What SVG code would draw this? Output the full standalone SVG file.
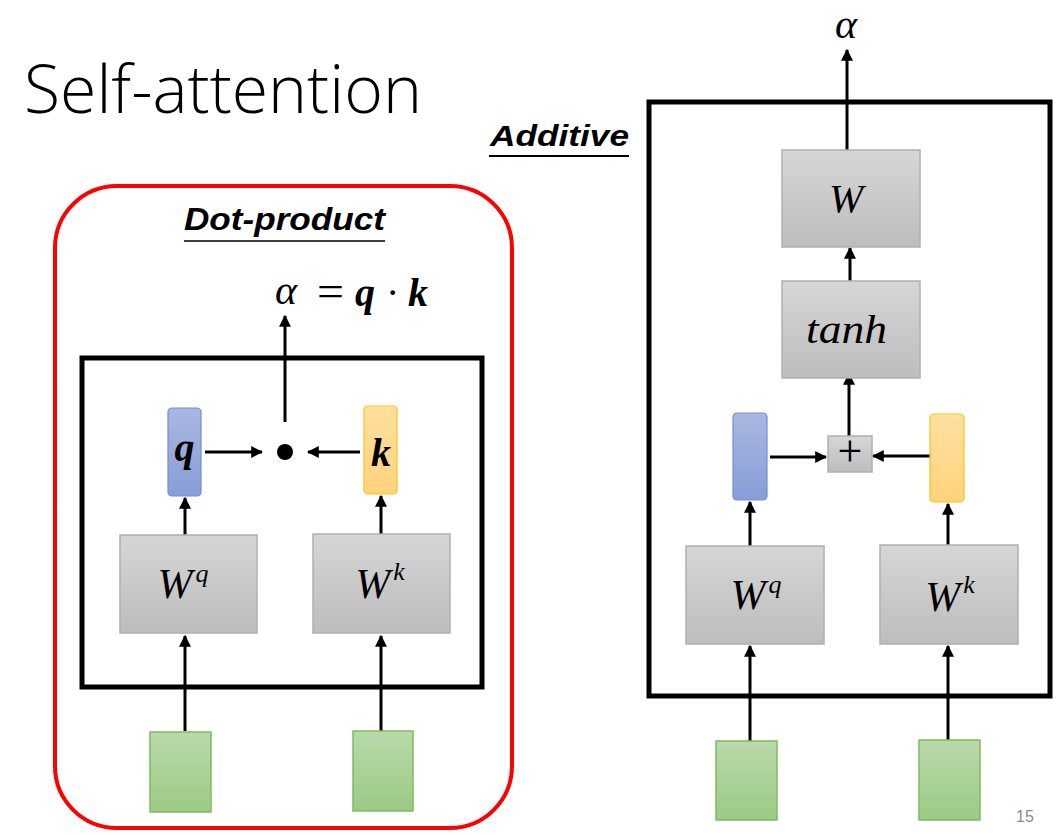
<svg xmlns="http://www.w3.org/2000/svg" width="1064" height="835" viewBox="0 0 1064 835">
<defs>
<linearGradient id="gGray" x1="0" y1="0" x2="0" y2="1"><stop offset="0" stop-color="#d6d6d6"/><stop offset="1" stop-color="#bdbdbd"/></linearGradient>
<linearGradient id="gBlue" x1="0" y1="0" x2="0" y2="1"><stop offset="0" stop-color="#aab7e0"/><stop offset="1" stop-color="#879dd8"/></linearGradient>
<linearGradient id="gOrange" x1="0" y1="0" x2="0" y2="1"><stop offset="0" stop-color="#ffe0a0"/><stop offset="1" stop-color="#ffd37d"/></linearGradient>
<linearGradient id="gGreen" x1="0" y1="0" x2="0" y2="1"><stop offset="0" stop-color="#b9d9aa"/><stop offset="1" stop-color="#9cca84"/></linearGradient>
<marker id="arr" viewBox="0 0 10 10" refX="9" refY="5" markerWidth="4" markerHeight="4" markerUnits="strokeWidth" orient="auto">
<path d="M0,0 L10,5 L0,10 z" fill="#000"/>
</marker>
<style>
.gray{fill:url(#gGray);stroke:#b0b0b0;stroke-width:1.5}
.blue{fill:url(#gBlue);stroke:#6e8fd6;stroke-width:1.2}
.orange{fill:url(#gOrange);stroke:#ffc21a;stroke-width:1.2}
.green{fill:url(#gGreen);stroke:#7ebc5f;stroke-width:1.5}
.frame{fill:none;stroke:#000;stroke-width:5}
.conn{stroke:#000;stroke-width:3;fill:none;marker-end:url(#arr)}
.math{font-family:"Liberation Serif","DejaVu Serif",serif;font-style:italic;fill:#000}
.rm{font-family:"Liberation Serif","DejaVu Serif",serif;fill:#000}
.head{font-family:"Liberation Sans","Noto Sans",sans-serif;font-weight:bold;font-style:italic;fill:#000}
</style>
</defs>
<rect width="1064" height="835" fill="#fff"/>

<text id="title" x="24" y="113" font-family="'Open Sans','Noto Sans',sans-serif" font-weight="300" font-size="66" textLength="398" lengthAdjust="spacingAndGlyphs" fill="#000">Self-attention</text>

<g id="dot-product-panel">
<rect x="55" y="186" width="457" height="642" rx="62" ry="62" fill="none" stroke="#ff0000" stroke-width="4"/>
<text class="head" x="184" y="230" font-size="31" textLength="201" lengthAdjust="spacingAndGlyphs">Dot-product</text>
<line x1="184" y1="241" x2="385" y2="241" stroke="#404040" stroke-width="2"/>
<rect class="frame" x="82" y="358" width="400" height="329"/>
</g>

<g id="additive-panel">
<text class="head" x="490" y="146" font-size="30" textLength="139" lengthAdjust="spacingAndGlyphs">Additive</text>
<line x1="489" y1="156" x2="629" y2="156" stroke="#000" stroke-width="2"/>
<rect class="frame" x="649" y="102" width="401" height="594"/>
</g>

<g id="connectors">
<line class="conn" x1="285" y1="422" x2="285" y2="316"/>
<line class="conn" x1="205" y1="452" x2="262" y2="452"/>
<line class="conn" x1="360" y1="452" x2="308" y2="452"/>
<line class="conn" x1="185" y1="546" x2="185" y2="498"/>
<line class="conn" x1="381" y1="549" x2="381" y2="496"/>
<line class="conn" x1="185" y1="731" x2="185" y2="636"/>
<line class="conn" x1="381" y1="731" x2="381" y2="636"/>
<line class="conn" x1="847" y1="152" x2="847" y2="50"/>
<line class="conn" x1="850" y1="284" x2="850" y2="248"/>
<line class="conn" x1="849" y1="436" x2="849" y2="374"/>
<line class="conn" x1="770" y1="457" x2="826" y2="457"/>
<line class="conn" x1="930" y1="456" x2="873" y2="456"/>
<line class="conn" x1="750" y1="557" x2="750" y2="502"/>
<line class="conn" x1="948" y1="560" x2="948" y2="504"/>
<line class="conn" x1="750" y1="741" x2="750" y2="646"/>
<line class="conn" x1="948" y1="740" x2="948" y2="646"/>
</g>

<g id="left-alpha">
<text class="math" x="275" y="304" font-size="42" textLength="22" lengthAdjust="spacingAndGlyphs">α</text>
<text class="rm" x="317" y="306" font-size="44" textLength="27" lengthAdjust="spacingAndGlyphs">=</text>
<text class="math" x="355" y="306" font-size="40" font-weight="bold">q</text>
<text class="rm" x="386" y="306" font-size="40">·</text>
<text class="math" x="408" y="306" font-size="40" font-weight="bold">k</text>
</g>

<g id="left-dot"><circle cx="285" cy="452" r="8" fill="#000"/></g>

<g id="left-q"><rect class="blue" x="168" y="408" width="33" height="88" rx="4"/>
<text class="math" x="184.5" y="461" font-size="40" font-weight="bold" text-anchor="middle">q</text></g>
<g id="left-k"><rect class="orange" x="364" y="406" width="33" height="88" rx="4"/>
<text class="math" x="381" y="466" font-size="40" font-weight="bold" text-anchor="middle">k</text></g>

<g id="left-Wq"><rect class="gray" x="120" y="535" width="137" height="98"/>
<text class="math" x="183" y="598" font-size="42" text-anchor="middle">W<tspan font-size="26" dx="3" dy="-16">q</tspan></text></g>
<g id="left-Wk"><rect class="gray" x="313" y="534" width="137" height="99"/>
<text class="math" x="380" y="598" font-size="42" text-anchor="middle">W<tspan font-size="26" dx="3" dy="-18">k</tspan></text></g>

<g id="left-x1"><rect class="green" x="150" y="732" width="61" height="80"/></g>
<g id="left-x2"><rect class="green" x="353" y="731" width="60" height="80"/></g>

<g id="right-alpha"><text class="math" x="846" y="38" font-size="42" text-anchor="middle">α</text></g>
<g id="right-W"><rect class="gray" x="782" y="150" width="138" height="97"/>
<text class="math" x="846" y="212" font-size="41" text-anchor="middle">W</text></g>
<g id="right-tanh"><rect class="gray" x="782" y="281" width="138" height="97"/>
<text class="math" x="806" y="343" font-size="40" textLength="81" lengthAdjust="spacingAndGlyphs">tanh</text></g>
<g id="right-plus"><rect class="gray" x="828" y="436" width="44" height="36"/>
<text class="rm" x="850" y="466" font-size="44" text-anchor="middle">+</text></g>
<g id="right-q"><rect class="blue" x="733" y="413" width="34" height="87" rx="4"/></g>
<g id="right-k"><rect class="orange" x="930" y="414" width="34" height="88" rx="4"/></g>
<g id="right-Wq"><rect class="gray" x="686" y="546" width="138" height="98"/>
<text class="math" x="756" y="609" font-size="42" text-anchor="middle">W<tspan font-size="26" dx="3" dy="-16">q</tspan></text></g>
<g id="right-Wk"><rect class="gray" x="880" y="545" width="138" height="99"/>
<text class="math" x="950" y="611" font-size="42" text-anchor="middle">W<tspan font-size="26" dx="3" dy="-18">k</tspan></text></g>
<g id="right-x1"><rect class="green" x="716" y="741" width="61" height="79"/></g>
<g id="right-x2"><rect class="green" x="919" y="740" width="61" height="80"/></g>

<text id="page" x="1016" y="822" font-family="'Liberation Sans',sans-serif" font-size="16" fill="#8a8a8a">15</text>
</svg>
